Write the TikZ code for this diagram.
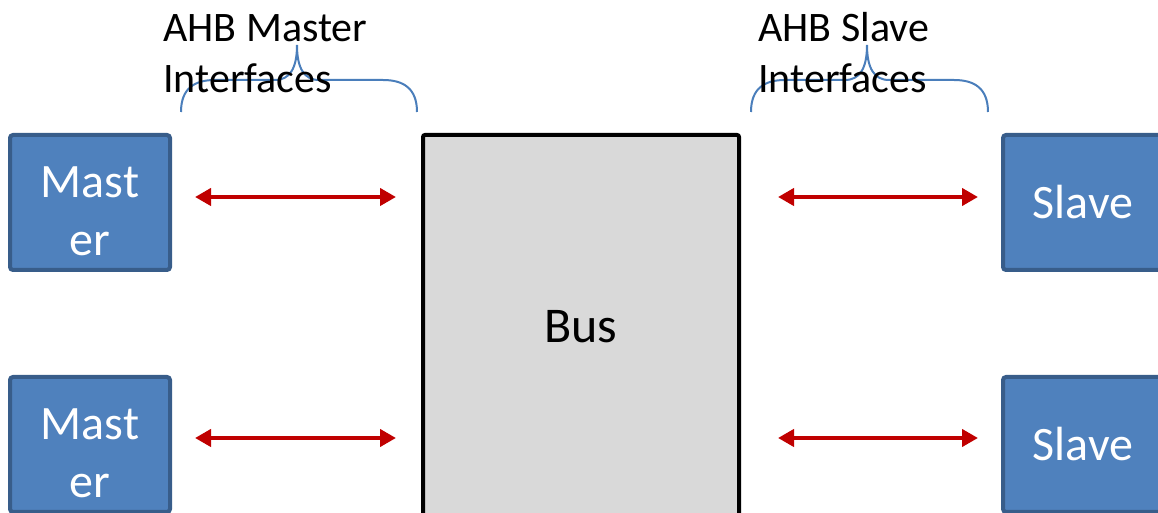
\documentclass[tikz,border=0pt]{standalone}
\usepackage{fontspec}
\setmainfont{Carlito}
\usetikzlibrary{arrows.meta}

\definecolor{unitblue}{HTML}{4F81BD}
\definecolor{unitedge}{HTML}{385D8A}
\definecolor{busgray}{HTML}{D9D9D9}
\definecolor{linkred}{HTML}{C00000}
\definecolor{bracecol}{HTML}{4A7EBB}

\tikzset{
  unit/.style={draw=unitedge, fill=unitblue, line width=2pt, rounded corners=1.5pt,
    minimum width=80pt, minimum height=67.5pt, inner sep=0pt,
    text=white, align=center, font=\fontsize{24}{29}\selectfont},
  busbox/.style={draw=black, fill=busgray, line width=2pt, rounded corners=1pt,
    minimum width=158pt, minimum height=192pt, inner sep=0pt,
    font=\fontsize{25}{30}\selectfont},
  link/.style={linkred, line width=2.4pt, {Triangle[length=8pt,width=8.5pt]}-{Triangle[length=8pt,width=8.5pt]}},
  brace/.style={bracecol, line width=1pt},
  caption/.style={anchor=base west, inner sep=0pt, align=left, font=\fontsize{21}{25.5}\selectfont}
}

\begin{document}
\begin{tikzpicture}[x=0.5pt, y=-0.5pt]
  \useasboundingbox (0,0) rectangle (1158,513);
  \clip (0,0) rectangle (1158,513);

  % units on both sides of the bus
  \node[unit] (m1) at (90,202.5) {\rule{0pt}{24pt}Mast\\er};
  \node[unit] (m2) at (90,444.5) {\rule{0pt}{24pt}Mast\\er};
  \node[unit] (s1) at (1083,202.5) {Slave};
  \node[unit] (s2) at (1083,444.5) {Slave};
  \node[busbox] (bus) at (581,327) {Bus};

  % links
  \draw[link, shorten <=23pt*0.5, shorten >=25pt*0.5] (m1.east |- 0,197) -- (bus.west |- 0,197);
  \draw[link, shorten <=23pt*0.5, shorten >=25pt*0.5] (m2.east |- 0,438) -- (bus.west |- 0,438);
  \draw[link, shorten <=37pt*0.5, shorten >=23pt*0.5] (bus.east |- 0,197) -- (s1.west |- 0,197);
  \draw[link, shorten <=37pt*0.5, shorten >=23pt*0.5] (bus.east |- 0,438) -- (s2.west |- 0,438);

  % braces over the interfaces
  \draw[brace] (181,112) .. controls (181,88) and (195,80) .. (215,80) -- (275,80)
    .. controls (290,80) and (297,68) .. (297,45)
    .. controls (297,68) and (304,80) .. (319,80) -- (383,80)
    .. controls (403,80) and (417,88) .. (417,112);
  \draw[brace] (751,112) .. controls (751,88) and (765,80) .. (785,80) -- (845,80)
    .. controls (860,80) and (867,68) .. (867,45)
    .. controls (867,68) and (874,80) .. (889,80) -- (954,80)
    .. controls (974,80) and (988,88) .. (988,112);

  \node[caption] (mcap) at (163,93) {AHB Master\\Interfaces};
  \node[caption] (scap) at (758,93) {AHB Slave\\Interfaces};
\end{tikzpicture}
\end{document}
